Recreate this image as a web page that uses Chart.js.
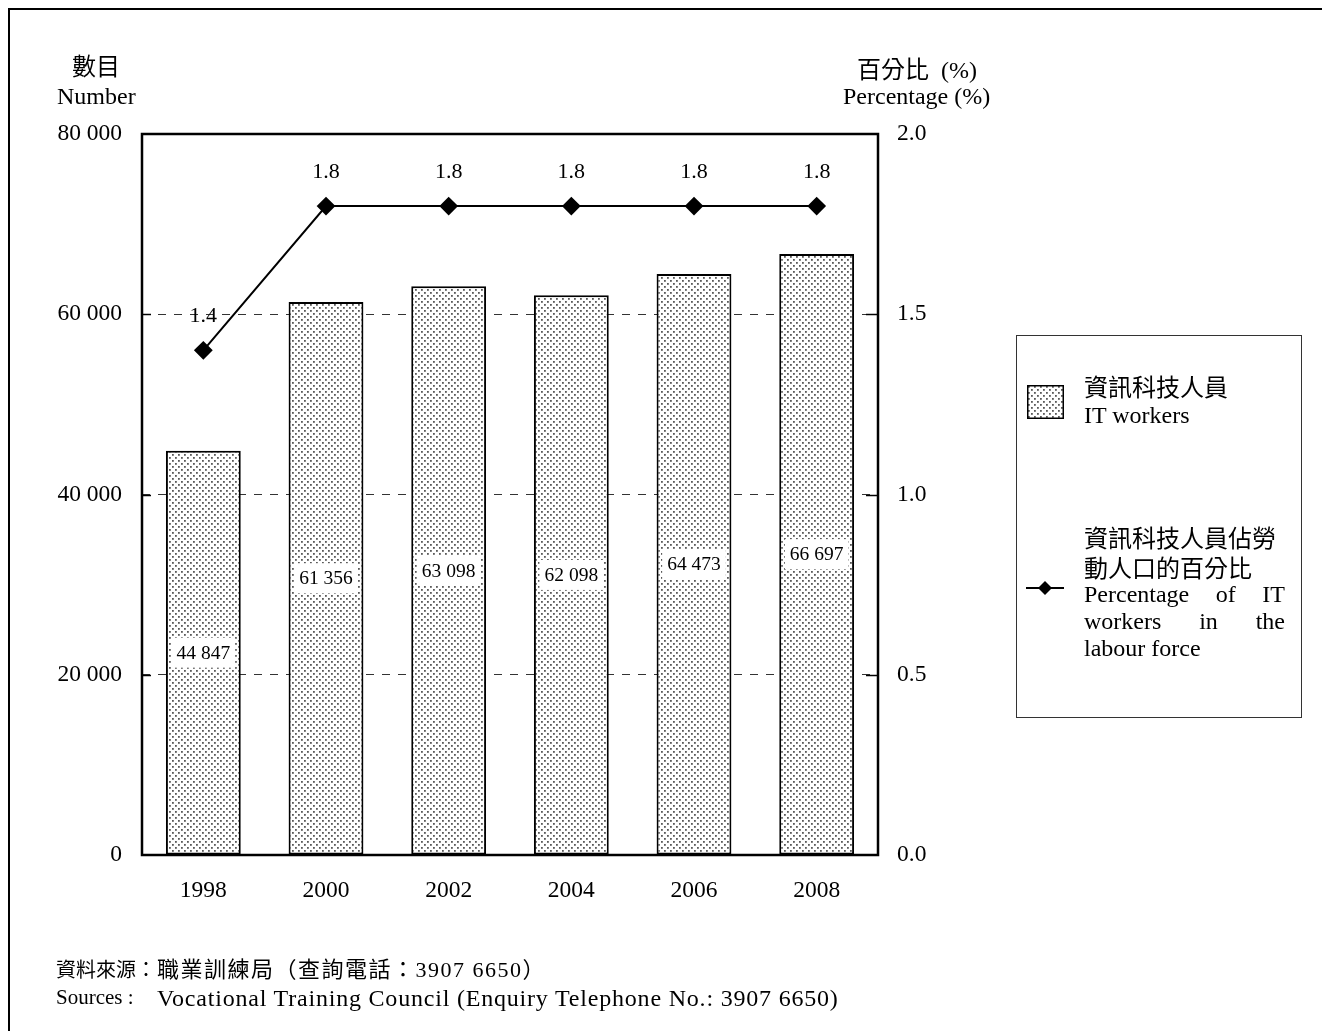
<!DOCTYPE html>
<html>
<head>
<meta charset="utf-8">
<title>資訊科技人員 IT workers</title>
<script src="https://cdn.jsdelivr.net/npm/chart.js@4/dist/chart.umd.min.js"></script>
<style>
  html, body { margin: 0; padding: 0; background: #fff; }
  body { width: 1328px; height: 1031px; position: relative; overflow: hidden;
         font-family: "Liberation Serif", "Noto Sans CJK TC", serif; color: #000; }
  #frame { position: absolute; left: 8px; top: 8px; width: 1312px; height: 1100px;
           border-top: 2px solid #000; border-left: 2px solid #000; }
  #chart { position: absolute; left: 0; top: 0; }
  .txt { position: absolute; font-size: 24px; line-height: 1; white-space: nowrap; }
  .src { font-size: 22px; }
  #legend { position: absolute; left: 1016px; top: 335px; width: 286px; height: 383px;
            border: 1px solid #333; box-sizing: border-box; }
  .just { text-align: justify; text-align-last: justify; width: 201px; white-space: normal; }
</style>
</head>
<body>
<div id="frame"></div>
<canvas id="chart" width="1328" height="1031"></canvas>

<div class="txt" style="left:72px;top:55px;">數目</div>
<div class="txt" style="left:57px;top:84px;">Number</div>
<div class="txt" style="left:857px;top:58px;">百分比&nbsp;&nbsp;(%)</div>
<div class="txt" style="left:843px;top:84px;">Percentage (%)</div>

<div id="legend">
  <canvas id="swatch" width="37" height="34" style="position:absolute;left:10px;top:49px;"></canvas>
  <div class="txt" style="left:67px;top:40px;">資訊科技人員</div>
  <div class="txt" style="left:67px;top:67px;">IT workers</div>
  <canvas id="lineKey" width="40" height="20" style="position:absolute;left:9px;top:242px;"></canvas>
  <div class="txt" style="left:67px;top:191px;">資訊科技人員佔勞</div>
  <div class="txt" style="left:67px;top:221px;">動人口的百分比</div>
  <div class="txt just" style="left:67px;top:246px;">Percentage of IT</div>
  <div class="txt just" style="left:67px;top:273px;">workers in the</div>
  <div class="txt" style="left:67px;top:300px;">labour force</div>
</div>

<div class="txt src" style="left:56px;top:960px;font-size:20px;">資料來源：</div>
<div class="txt src" style="left:157px;top:959px;letter-spacing:1.5px;">職業訓練局（查詢電話：3907 6650）</div>
<div class="txt src" style="left:56px;top:987px;font-size:21px;">Sources :</div>
<div class="txt src" style="left:157px;top:986px;font-size:24px;letter-spacing:0.8px;">Vocational Training Council (Enquiry Telephone No.: 3907 6650)</div>

<script>
const years = ["1998", "2000", "2002", "2004", "2006", "2008"];
const itWorkers = [44847, 61356, 63098, 62098, 64473, 66697];
const itShare = [1.4, 1.8, 1.8, 1.8, 1.8, 1.8];
const numberTicks = [0, 20000, 40000, 60000, 80000];
const shareTicks = [0, 0.5, 1.0, 1.5, 2.0];

const FONT = '"Liberation Serif", "Noto Sans CJK TC", serif';

// "44 847" style grouping
function fmt(n) {
  return String(n).replace(/\B(?=(\d{3})+(?!\d))/g, " ");
}

// dotted fill for the bars
function dotPattern(ctx) {
  const tile = document.createElement("canvas");
  tile.width = 6;
  tile.height = 6;
  const t = tile.getContext("2d");
  t.fillStyle = "#fff";
  t.fillRect(0, 0, 6, 6);
  t.fillStyle = "#5a5a5a";
  t.fillRect(1, 1, 1.8, 1.8);
  t.fillRect(4, 4, 1.8, 1.8);
  return ctx.createPattern(tile, "repeat");
}

const ctx = document.getElementById("chart").getContext("2d");
const dots = dotPattern(ctx);

// legend keys
const sw = document.getElementById("swatch").getContext("2d");
sw.fillStyle = dotPattern(sw);
sw.fillRect(0, 0, 37, 34);
sw.strokeStyle = "#000";
sw.lineWidth = 1.5;
sw.strokeRect(0.75, 0.75, 35.5, 32.5);

const lk = document.getElementById("lineKey").getContext("2d");
lk.strokeStyle = "#000";
lk.lineWidth = 2;
lk.beginPath();
lk.moveTo(0, 10);
lk.lineTo(38, 10);
lk.stroke();
lk.fillStyle = "#000";
lk.beginPath();
lk.moveTo(19, 3);
lk.lineTo(26, 10);
lk.lineTo(19, 17);
lk.lineTo(12, 10);
lk.closePath();
lk.fill();

const gridDash = (c) =>
  c.tick && c.tick.value > 0 && c.tick.value < 80000 ? "#333" : "rgba(0,0,0,0)";

const labelPlugin = {
  id: "valueLabels",
  afterDatasetsDraw(chart) {
    const c = chart.ctx;
    c.save();
    c.textAlign = "center";
    c.textBaseline = "middle";

    // bar values in white boxes at mid-height
    c.font = "19.5px " + FONT;
    chart.getDatasetMeta(1).data.forEach((bar, i) => {
      const text = fmt(itWorkers[i]);
      const y = (bar.y + bar.base) / 2;
      const w = c.measureText(text).width + 10;
      c.fillStyle = "#fff";
      c.fillRect(bar.x - w / 2, y - 15, w, 30);
      c.fillStyle = "#000";
      c.fillText(text, bar.x, y + 1);
    });

    // percentages above the line points
    c.font = "22px " + FONT;
    chart.getDatasetMeta(0).data.forEach((pt, i) => {
      c.fillStyle = "#000";
      c.fillText(itShare[i].toFixed(1), pt.x, pt.y - 34);
    });
    c.restore();
  },
  afterDraw(chart) {
    const { left, right, top, bottom } = chart.chartArea;
    const c = chart.ctx;
    c.save();
    c.strokeStyle = "#000";
    c.lineWidth = 2.5;
    c.strokeRect(left, top, right - left, bottom - top);
    // inward tick marks on both value axes
    c.lineWidth = 1.5;
    const y = chart.scales.y;
    [20000, 40000, 60000].forEach((v) => {
      const p = Math.round(y.getPixelForValue(v)) + 0.5;
      c.beginPath();
      c.moveTo(left, p);
      c.lineTo(left + 9, p);
      c.stroke();
    });
    const y1 = chart.scales.y1;
    [0.5, 1.0, 1.5].forEach((v) => {
      const p = Math.round(y1.getPixelForValue(v)) + 0.5;
      c.beginPath();
      c.moveTo(right - 12, p);
      c.lineTo(right, p);
      c.stroke();
    });
    c.restore();
  },
};

new Chart(ctx, {
  data: {
    labels: years,
    datasets: [
      {
        type: "line",
        label: "資訊科技人員佔勞動人口的百分比 Percentage of IT workers in the labour force",
        data: itShare,
        yAxisID: "y1",
        order: 0,
        borderColor: "#000",
        borderWidth: 2,
        pointStyle: "rectRot",
        pointRadius: 8,
        pointBackgroundColor: "#000",
        pointBorderColor: "#000",
        tension: 0,
      },
      {
        type: "bar",
        label: "資訊科技人員 IT workers",
        data: itWorkers,
        yAxisID: "y",
        order: 1,
        backgroundColor: dots,
        borderColor: "#000",
        borderWidth: 2,
        borderSkipped: false,
        categoryPercentage: 0.61,
        barPercentage: 1,
      },
    ],
  },
  options: {
    responsive: false,
    animation: false,
    devicePixelRatio: 1,
    layout: { padding: { top: 134, left: 0, right: 0, bottom: 0 } },
    plugins: {
      legend: { display: false },
      tooltip: { enabled: false },
    },
    scales: {
      x: {
        grid: { display: false, drawTicks: false },
        border: { display: false },
        ticks: { color: "#000", padding: 22, font: { family: FONT, size: 23.5 } },
        afterFit(s) { s.height = 176; },
      },
      y: {
        position: "left",
        min: 0,
        max: 80000,
        afterBuildTicks(s) { s.ticks = numberTicks.map((v) => ({ value: v })); },
        grid: { color: gridDash, lineWidth: 1, drawTicks: false },
        border: { display: false, dash: [8, 8] },
        ticks: {
          color: "#000",
          padding: 20,
          font: { family: FONT, size: 23.5 },
          callback: (v) => fmt(v),
        },
        afterFit(s) { s.width = 142; },
      },
      y1: {
        position: "right",
        min: 0,
        max: 2,
        afterBuildTicks(s) { s.ticks = shareTicks.map((v) => ({ value: v })); },
        grid: { drawOnChartArea: false, drawTicks: false },
        border: { display: false },
        ticks: {
          color: "#000",
          padding: 19,
          font: { family: FONT, size: 23.5 },
          callback: (v) => Number(v).toFixed(1),
        },
        afterFit(s) { s.width = 450; },
      },
    },
  },
  plugins: [labelPlugin],
});
</script>
</body>
</html>
